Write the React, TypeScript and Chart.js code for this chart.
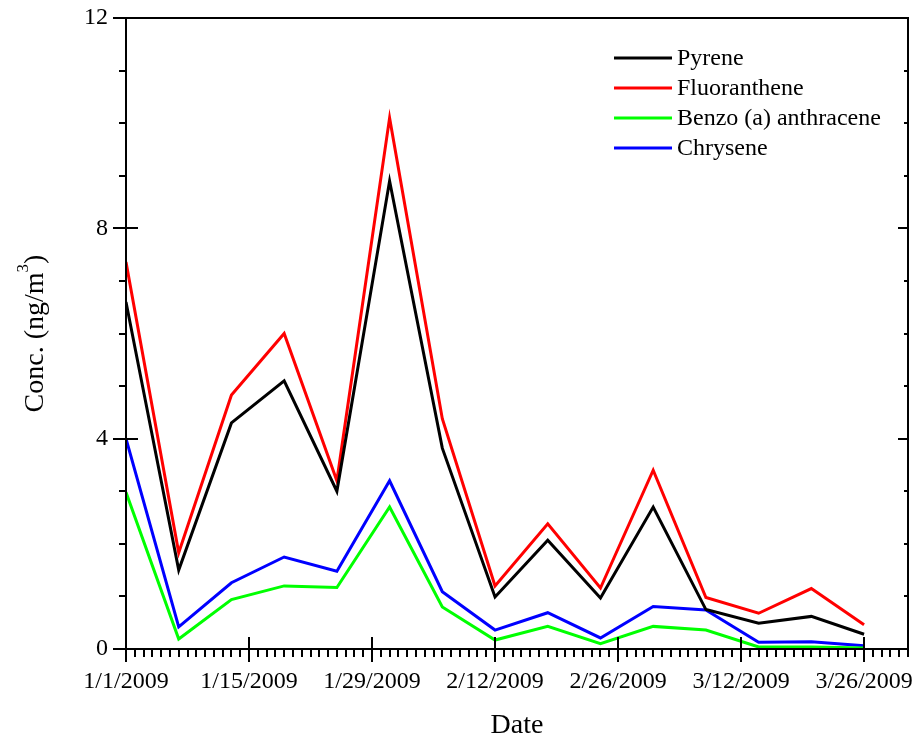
import React, { useEffect, useRef } from "react";
import { Chart, registerables } from "chart.js";

Chart.register(...registerables);

const dates = [
  "1/1/2009", "1/7/2009", "1/13/2009", "1/19/2009", "1/25/2009", "1/31/2009", "2/6/2009",
  "2/12/2009", "2/18/2009", "2/24/2009", "3/2/2009", "3/8/2009", "3/14/2009", "3/20/2009", "3/26/2009",
];
const pyrene = [6.6, 1.5, 4.3, 5.1, 3.0, 8.9, 3.82, 0.99, 2.07, 0.97, 2.7, 0.75, 0.49, 0.62, 0.28];
const fluoranthene = [7.36, 1.83, 4.83, 6.0, 3.2, 10.1, 4.38, 1.2, 2.38, 1.16, 3.4, 0.98, 0.68, 1.15, 0.46];
const benzoAnthracene = [2.98, 0.19, 0.94, 1.2, 1.17, 2.7, 0.8, 0.17, 0.43, 0.1, 0.43, 0.36, 0.04, 0.04, 0.02];
const chrysene = [4.0, 0.42, 1.26, 1.75, 1.48, 3.2, 1.09, 0.36, 0.69, 0.21, 0.81, 0.74, 0.13, 0.14, 0.06];

const seriesNames = ["Pyrene", "Fluoranthene", "Benzo (a) anthracene", "Chrysene"];
const seriesColors = ["#000000", "#ff0000", "#00ff00", "#0000ff"];

const xMajorLabels = ["1/1/2009", "1/15/2009", "1/29/2009", "2/12/2009", "2/26/2009", "3/12/2009", "3/26/2009"];
const xEndDate = "3/31/2009";
const yMax = 12;
const yMajorStep = 4;

const FONT = "'Liberation Serif', 'Times New Roman', serif";

function dayOf(s: string): number {
  const [m, d, y] = s.split("/").map(Number);
  const base = Date.UTC(2009, 0, 1);
  return Math.round((Date.UTC(y, m - 1, d) - base) / 86400000);
}

const majorDays = xMajorLabels.map(dayOf);

export default function App() {
  const ref = useRef<HTMLCanvasElement>(null);
  useEffect(() => {
    document.body.style.margin = "0";
    const canvas = ref.current!;
    const seriesData = [pyrene, fluoranthene, benzoAnthracene, chrysene];
    const xMax = dayOf(xEndDate);

    const framePlugin = {
      id: "frame",
      afterDraw(chart: any) {
        const ctx = chart.ctx;
        const { left, right, top, bottom } = chart.chartArea;
        const xs = chart.scales.x;
        const ys = chart.scales.y;
        ctx.save();
        ctx.strokeStyle = "#000";
        ctx.lineWidth = 2;
        ctx.beginPath();
        ctx.rect(left, top, right - left, bottom - top);
        ctx.stroke();
        // x ticks
        for (let d = 0; d <= xMax; d++) {
          const px = Math.round(xs.getPixelForValue(d));
          const major = majorDays.includes(d);
          ctx.beginPath();
          if (major) {
            ctx.moveTo(px, bottom - 12);
            ctx.lineTo(px, bottom + 13);
          } else {
            ctx.moveTo(px, bottom);
            ctx.lineTo(px, bottom + 8);
          }
          ctx.stroke();
        }
        // y ticks
        for (let v = 0; v <= yMax; v++) {
          const py = Math.round(ys.getPixelForValue(v));
          const major = v % yMajorStep === 0;
          ctx.beginPath();
          if (major) {
            ctx.moveTo(left - 13, py);
            ctx.lineTo(left + 12, py);
            ctx.moveTo(right, py);
            ctx.lineTo(right - 10, py);
          } else {
            ctx.moveTo(left - 7, py);
            ctx.lineTo(left, py);
            ctx.moveTo(right, py);
            ctx.lineTo(right - 4, py);
          }
          ctx.stroke();
        }
        // legend
        const lx = 614;
        const ly = [58, 88, 118, 148];
        ctx.lineWidth = 3;
        ctx.font = `24px ${FONT}`;
        ctx.textBaseline = "middle";
        ctx.textAlign = "left";
        seriesNames.forEach((n, i) => {
          ctx.strokeStyle = seriesColors[i];
          ctx.beginPath();
          ctx.moveTo(lx, ly[i]);
          ctx.lineTo(lx + 58, ly[i]);
          ctx.stroke();
          ctx.fillStyle = "#000";
          ctx.fillText(n, lx + 63, ly[i] + 1);
        });
        // y title with superscript
        ctx.save();
        const cx = 43;
        const cy = (top + bottom) / 2;
        ctx.translate(cx, cy);
        ctx.rotate(-Math.PI / 2);
        const main = "Conc. (ng/m";
        const sup = "3";
        const close = ")";
        ctx.font = `28px ${FONT}`;
        const w1 = ctx.measureText(main).width;
        const w3 = ctx.measureText(close).width;
        ctx.font = `17px ${FONT}`;
        const w2 = ctx.measureText(sup).width;
        const total = w1 + w2 + w3;
        const x0 = -total / 2;
        ctx.textBaseline = "alphabetic";
        ctx.fillStyle = "#000";
        ctx.font = `28px ${FONT}`;
        ctx.fillText(main, x0, 0);
        ctx.font = `17px ${FONT}`;
        ctx.fillText(sup, x0 + w1, -15);
        ctx.font = `28px ${FONT}`;
        ctx.fillText(close, x0 + w1 + w2, 0);
        ctx.restore();
        ctx.restore();
      },
    };

    const chart = new Chart(canvas, {
      type: "line",
      data: {
        datasets: seriesNames.map((n, i) => ({
          label: n,
          data: dates.map((d, j) => ({ x: dayOf(d), y: seriesData[i][j] })),
          borderColor: seriesColors[i],
          backgroundColor: seriesColors[i],
          borderWidth: 3,
          pointRadius: 0,
          tension: 0,
          fill: false,
        })),
      },
      options: {
        responsive: false,
        animation: false,
        layout: { padding: { top: 18, right: 9, left: 0, bottom: 0 } },
        plugins: { legend: { display: false }, tooltip: { enabled: false } },
        scales: {
          x: {
            type: "linear",
            min: 0,
            max: xMax,
            afterBuildTicks: (s: any) => {
              s.ticks = majorDays.map((v) => ({ value: v }));
            },
            afterFit: (s: any) => {
              s.height = 93;
              s.paddingLeft = 0;
              s.paddingRight = 0;
            },
            grid: { display: false, drawTicks: false },
            border: { display: false },
            ticks: {
              autoSkip: false,
              maxRotation: 0,
              padding: 18,
              color: "#000",
              font: { family: FONT, size: 24 },
              callback: (v: any) => {
                const i = majorDays.indexOf(Number(v));
                return i >= 0 ? xMajorLabels[i] : "";
              },
            },
            title: {
              display: true,
              text: "Date",
              color: "#000",
              font: { family: FONT, size: 28 },
              padding: { top: 20, bottom: 0 },
            },
          },
          y: {
            type: "linear",
            min: 0,
            max: yMax,
            afterBuildTicks: (s: any) => {
              const t = [];
              for (let v = 0; v <= yMax; v += yMajorStep) t.push({ value: v });
              s.ticks = t;
            },
            afterFit: (s: any) => {
              s.width = 126;
              s.paddingTop = 0;
              s.paddingBottom = 0;
            },
            grid: { display: false, drawTicks: false },
            border: { display: false },
            ticks: {
              padding: 18,
              color: "#000",
              font: { family: FONT, size: 24 },
            },
          },
        },
      },
      plugins: [framePlugin],
    });
    return () => chart.destroy();
  }, []);
  return <canvas ref={ref} width={917} height={742} style={{ display: "block" }} />;
}
